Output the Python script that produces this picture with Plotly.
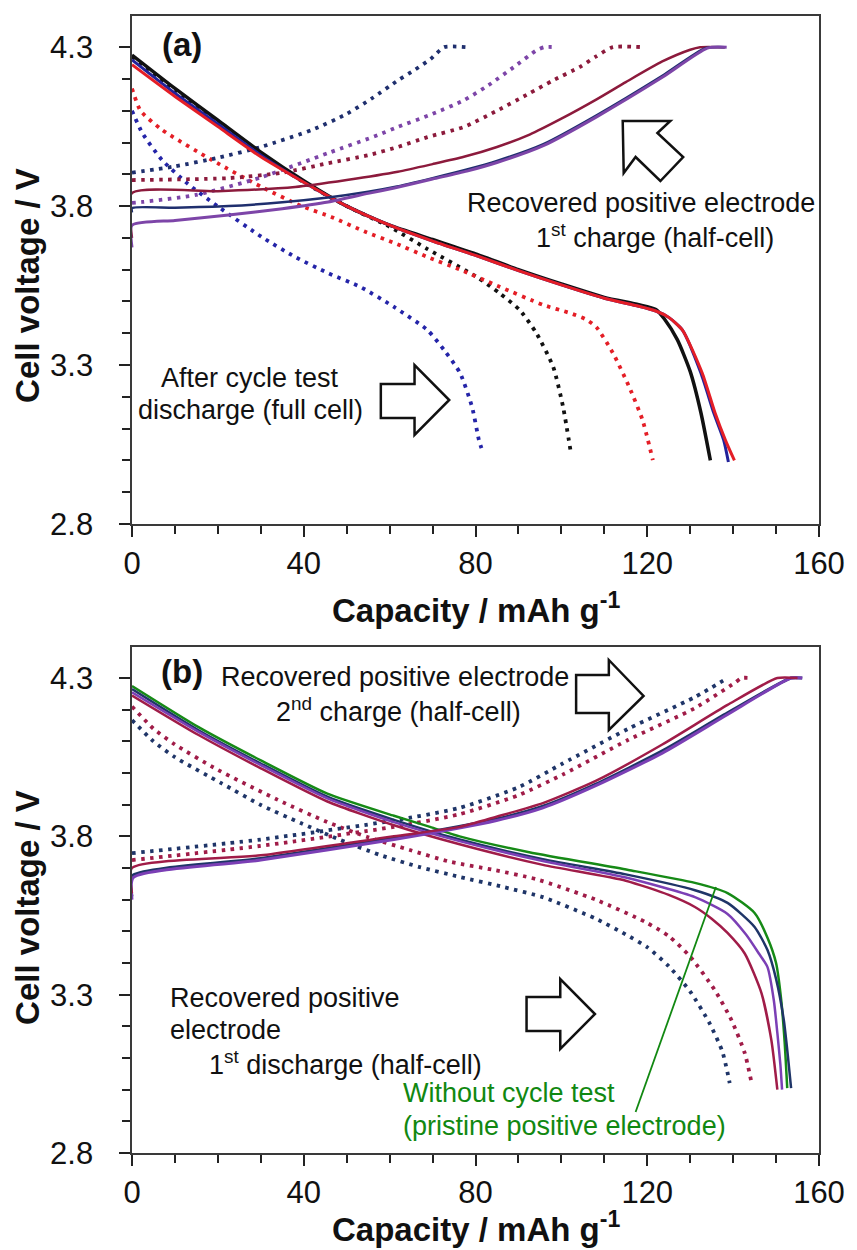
import plotly.graph_objects as go

# ---------------- Panel (a) data ----------------
# discharge, after cycle test (full cell) - dotted
a_blue_dot_x = [0, 2.4, 7.0, 13, 20.2, 30.2, 38.0, 45.7, 53.3, 61.1, 68.8, 72.7, 76.4, 79.2, 80.8, 81.7]
a_blue_dot_y = [4.10, 4.03, 3.945, 3.87, 3.797, 3.703, 3.640, 3.589, 3.545, 3.482, 3.41, 3.347, 3.275, 3.168, 3.064, 3.026]
a_black_dot_x = [0, 10, 20, 30, 40, 50, 60, 68.8, 80.3, 85.6, 90.3, 94.2, 98.1, 100.4, 102.3]
a_black_dot_y = [4.27, 4.165, 4.065, 3.965, 3.875, 3.80, 3.735, 3.665, 3.577, 3.526, 3.473, 3.40, 3.294, 3.168, 3.017]
a_red_dot_x = [0, 2, 7, 18.6, 30.2, 39.5, 46.4, 54.2, 61.1, 68.8, 76.4, 85, 95.8, 101.9, 105.5, 108.1, 112, 115.8, 118.9, 121.3]
a_red_dot_y = [4.17, 4.10, 4.04, 3.945, 3.86, 3.80, 3.766, 3.72, 3.684, 3.64, 3.60, 3.55, 3.489, 3.464, 3.445, 3.42, 3.338, 3.231, 3.127, 3.001]
# discharge, solid
a_black_x = [0, 10, 20, 30, 40, 50, 60, 70, 80, 90, 100, 110, 118, 122, 124, 127, 130, 132.5, 134.7]
a_black_y = [4.275, 4.17, 4.07, 3.97, 3.88, 3.80, 3.74, 3.695, 3.65, 3.60, 3.555, 3.513, 3.49, 3.475, 3.445, 3.38, 3.28, 3.15, 3.0]
a_blue_x = [0, 10, 20, 30, 40, 50, 60, 70, 80, 90, 100, 110, 118, 122, 125, 128.2, 132.5, 135.5, 137.8, 138.9]
a_blue_y = [4.26, 4.155, 4.058, 3.96, 3.875, 3.80, 3.74, 3.69, 3.645, 3.597, 3.552, 3.51, 3.485, 3.47, 3.45, 3.41, 3.275, 3.149, 3.064, 2.995]
a_red_x = [0, 10, 20, 30, 40, 50, 60, 70, 80, 90, 100, 110, 118, 122, 125, 128.2, 132.8, 135.8, 138.2, 140.3]
a_red_y = [4.245, 4.145, 4.05, 3.955, 3.875, 3.80, 3.74, 3.69, 3.645, 3.597, 3.552, 3.51, 3.485, 3.47, 3.45, 3.41, 3.275, 3.149, 3.064, 3.0]
# 1st charge, solid
a_dred_x = [0, 0, 20, 38, 50, 61.9, 70, 77.3, 85, 92.6, 100, 108.1, 115, 123.5, 130, 132.3, 138.1]
a_dred_y = [3.70, 3.841, 3.847, 3.86, 3.882, 3.908, 3.932, 3.955, 3.986, 4.025, 4.075, 4.135, 4.19, 4.255, 4.292, 4.30, 4.30]
a_navy_x = [0, 0, 10, 22.5, 35, 45.7, 55, 61.1, 70, 78, 85, 95.8, 108.1, 123.5, 133.5, 138]
a_navy_y = [3.78, 3.794, 3.795, 3.80, 3.812, 3.827, 3.845, 3.86, 3.888, 3.915, 3.942, 3.995, 4.085, 4.21, 4.297, 4.30]
a_purple_x = [0, 0, 10, 22.5, 35, 45.7, 55, 61.1, 70, 78, 85, 95.8, 108.1, 123.5, 134, 138.5]
a_purple_y = [3.67, 3.74, 3.755, 3.772, 3.792, 3.813, 3.84, 3.857, 3.885, 3.91, 3.937, 3.99, 4.08, 4.205, 4.297, 4.30]
# charge, dotted
a_navy_dot_x = [0, 10, 20, 30, 42, 50, 56, 62, 66, 69.5, 72.7, 78]
a_navy_dot_y = [3.905, 3.925, 3.952, 3.986, 4.04, 4.09, 4.14, 4.196, 4.23, 4.262, 4.30, 4.30]
a_purple_dot_x = [0, 2.4, 14.9, 30.2, 45.7, 57.2, 61.9, 70, 77.3, 83, 88.9, 94.2, 96, 98.8]
a_purple_dot_y = [3.81, 3.813, 3.835, 3.891, 3.967, 4.023, 4.049, 4.09, 4.133, 4.18, 4.237, 4.29, 4.30, 4.30]
a_dred_dot_x = [0, 22.5, 35, 45.7, 55, 61.9, 68.8, 77.3, 85, 92.6, 98, 104.2, 108, 112, 118.9]
a_dred_dot_y = [3.882, 3.888, 3.905, 3.935, 3.96, 3.986, 4.017, 4.049, 4.10, 4.155, 4.195, 4.237, 4.27, 4.30, 4.30]

# ---------------- Panel (b) data ----------------
b_green_x = [0, 15.5, 30, 45.5, 61, 69.4, 76.3, 92.5, 115.6, 131.1, 138.7, 145, 148, 150, 151.2, 152, 152.6]
b_green_y = [4.275, 4.145, 4.04, 3.935, 3.865, 3.83, 3.80, 3.75, 3.694, 3.653, 3.621, 3.558, 3.48, 3.40, 3.283, 3.15, 3.005]
b_navy_x = [0, 15.5, 30, 45.5, 61, 76.3, 95.7, 115, 131.1, 138.7, 145, 148, 150, 151.8, 152.8, 153.5]
b_navy_y = [4.265, 4.135, 4.03, 3.925, 3.852, 3.79, 3.728, 3.68, 3.63, 3.59, 3.514, 3.441, 3.35, 3.22, 3.10, 3.005]
b_purple_x = [0, 15.5, 30, 45.5, 61, 76.3, 95.7, 115, 131.1, 138.7, 143, 146, 148, 149.5, 150.3, 151, 151.4]
b_purple_y = [4.255, 4.13, 4.025, 3.92, 3.845, 3.785, 3.722, 3.67, 3.608, 3.555, 3.49, 3.43, 3.387, 3.28, 3.179, 3.08, 3.0]
b_dred_x = [0, 15.5, 30, 45.5, 61, 76.3, 95.7, 115, 125, 131.1, 135, 138.7, 142.7, 146.6, 148.9, 150.3]
b_dred_y = [4.245, 4.12, 4.015, 3.91, 3.835, 3.775, 3.71, 3.66, 3.615, 3.577, 3.54, 3.495, 3.43, 3.305, 3.157, 3.0]
b_dred_dot_x = [0, 5, 10, 20, 34, 45.5, 54.8, 64.7, 74, 84.2, 94.1, 108, 119.5, 125, 130, 135.7, 139.6, 142.7, 144.3]
b_dred_dot_y = [4.21, 4.14, 4.09, 4.01, 3.915, 3.845, 3.798, 3.757, 3.72, 3.694, 3.665, 3.60, 3.53, 3.485, 3.42, 3.315, 3.22, 3.116, 3.021]
b_navy_dot_x = [0, 5, 10, 20.8, 30, 39.3, 48.6, 57.8, 67, 76.3, 86.5, 95.7, 108, 115, 120, 125, 130, 134.5, 137.5, 139.2]
b_navy_dot_y = [4.167, 4.10, 4.05, 3.968, 3.899, 3.842, 3.788, 3.741, 3.703, 3.672, 3.64, 3.608, 3.54, 3.49, 3.45, 3.39, 3.31, 3.21, 3.12, 3.021]
# 2nd charge
b_dred_ch_x = [0, 0, 30, 61, 76.3, 84.9, 95.7, 108, 123.5, 138.7, 150.3, 155]
b_dred_ch_y = [3.62, 3.70, 3.74, 3.80, 3.83, 3.862, 3.905, 3.975, 4.09, 4.215, 4.30, 4.30]
b_navy_ch_x = [0, 0, 30, 61, 84.9, 95.7, 108, 123.5, 138.7, 153.5, 156.1]
b_navy_ch_y = [3.61, 3.675, 3.73, 3.795, 3.855, 3.895, 3.965, 4.07, 4.19, 4.30, 4.30]
b_purple_ch_x = [0, 0.3, 30, 61, 84.9, 95.7, 108, 123.5, 138.7, 153.5, 156.1]
b_purple_ch_y = [3.60, 3.67, 3.725, 3.79, 3.85, 3.89, 3.96, 4.063, 4.185, 4.30, 4.30]
b_navy_chdot_x = [0, 30, 61, 76.3, 90, 100.3, 115.6, 131.1, 138.7]
b_navy_chdot_y = [3.747, 3.79, 3.85, 3.89, 3.955, 4.03, 4.14, 4.24, 4.30]
b_dred_chdot_x = [0, 30, 61, 76.3, 90, 100.3, 115.6, 131.1, 140.3, 142, 144.3]
b_dred_chdot_y = [3.725, 3.77, 3.83, 3.87, 3.93, 3.995, 4.105, 4.205, 4.284, 4.30, 4.30]

x_ticks = [0, 40, 80, 120, 160]
y_ticks = [2.8, 3.3, 3.8, 4.3]
y_tick_labels = ["2.8", "3.3", "3.8", "4.3"]

# ---------------- styles ----------------
C_BLACK = "#111111"
C_BLUE = "#2424a8"
C_RED = "#e41e26"
C_DRED = "#8c1a3c"
C_NAVY = "#1f2f6e"
C_PURPLE = "#7d45a8"
C_GREEN = "#168a16"
C_B_DRED = "#a01c48"
C_B_NAVY = "#1f3568"
C_B_PURPLE = "#7b3fb5"

DOT = "3.5px,5.5px"

fig = go.Figure()


def add(x, y, color, dotted, xa, ya, width=None):
    w = width if width is not None else (3.8 if dotted else 3)
    fig.add_trace(go.Scatter(
        x=x, y=y, mode="lines", xaxis=xa, yaxis=ya, showlegend=False,
        hoverinfo="skip",
        line=dict(color=color, width=w, dash=DOT if dotted else "solid",
                  shape="spline", smoothing=0.6)))


# panel (a)
add(a_blue_dot_x, a_blue_dot_y, C_BLUE, True, "x", "y")
add(a_black_dot_x, a_black_dot_y, C_BLACK, True, "x", "y")
add(a_red_dot_x, a_red_dot_y, C_RED, True, "x", "y")
add(a_navy_dot_x, a_navy_dot_y, C_NAVY, True, "x", "y")
add(a_purple_dot_x, a_purple_dot_y, C_PURPLE, True, "x", "y")
add(a_dred_dot_x, a_dred_dot_y, C_DRED, True, "x", "y")
add(a_black_x, a_black_y, C_BLACK, False, "x", "y", 3.5)
add(a_blue_x, a_blue_y, "#22229a", False, "x", "y")
add(a_red_x, a_red_y, C_RED, False, "x", "y")
add(a_dred_x, a_dred_y, C_DRED, False, "x", "y", 2.5)
add(a_navy_x, a_navy_y, C_NAVY, False, "x", "y", 2.5)
add(a_purple_x, a_purple_y, C_PURPLE, False, "x", "y", 3)

# panel (b)
add(b_navy_dot_x, b_navy_dot_y, C_B_NAVY, True, "x2", "y2")
add(b_dred_dot_x, b_dred_dot_y, C_B_DRED, True, "x2", "y2")
add(b_navy_chdot_x, b_navy_chdot_y, C_B_NAVY, True, "x2", "y2")
add(b_dred_chdot_x, b_dred_chdot_y, C_B_DRED, True, "x2", "y2")
add(b_green_x, b_green_y, C_GREEN, False, "x2", "y2", 2.5)
add(b_navy_x, b_navy_y, C_B_NAVY, False, "x2", "y2", 2.5)
add(b_purple_x, b_purple_y, C_B_PURPLE, False, "x2", "y2", 2.5)
add(b_dred_x, b_dred_y, C_B_DRED, False, "x2", "y2", 2.5)
add(b_navy_ch_x, b_navy_ch_y, C_B_NAVY, False, "x2", "y2", 3)
add(b_purple_ch_x, b_purple_ch_y, C_B_PURPLE, False, "x2", "y2", 3)
add(b_dred_ch_x, b_dred_ch_y, C_B_DRED, False, "x2", "y2", 2.5)

# ---------------- layout ----------------
W, H = 857, 1250
L, R, T, B = 132, 32, 16, 97
PW, PH = W - L - R, H - T - B
Y_TOP_A = 524   # pixel bottom of panel (a)
Y_TOP_B = 647   # pixel top of panel (b)


def px(p):
    return (p - L) / PW


def py(p):
    return (H - B - p) / PH


TICKFONT = dict(family="Liberation Sans, Arial", size=31, color="#111111")
LINEC = "#3a3a3a"
PAD = "\u2007\u200a"  # shift y tick labels away from the axis

xcommon = dict(range=[0, 160], tickvals=x_ticks, ticks="outside", ticklen=11,
               tickwidth=1.5, tickcolor="#222", showline=True, linecolor=LINEC,
               linewidth=1.5, mirror=True, showgrid=False, zeroline=False,
               tickfont=TICKFONT,
               minor=dict(ticks="outside", ticklen=8, tickwidth=1.5,
                          tickcolor="#222", dtick=10, tick0=0, showgrid=False))
ycommon = dict(range=[2.8, 4.398], tickvals=y_ticks,
               ticktext=[t + PAD for t in y_tick_labels],
               ticks="outside", ticklen=11, tickwidth=1.5, tickcolor="#222",
               showline=True, linecolor=LINEC, linewidth=1.5, mirror=True,
               showgrid=False, zeroline=False, tickfont=TICKFONT,
               minor=dict(ticks="outside", ticklen=8, tickwidth=1.5,
                          tickcolor="#222", dtick=0.1, tick0=2.8, showgrid=False))
xin = dict(range=[0, 160], tickvals=x_ticks, ticks="inside", ticklen=11,
           tickwidth=1.5, tickcolor="#222", showticklabels=False,
           showline=False, showgrid=False, zeroline=False)
yin = dict(range=[2.8, 4.398], tickvals=y_ticks, ticks="inside", ticklen=11,
           tickwidth=1.5, tickcolor="#222", showticklabels=False,
           showline=False, showgrid=False, zeroline=False)

fig.update_layout(
    width=W, height=H,
    margin=dict(l=L, r=R, t=T, b=B),
    paper_bgcolor="white", plot_bgcolor="white",
    showlegend=False,
    xaxis=dict(domain=[0, 1], anchor="y", **xcommon),
    yaxis=dict(domain=[py(Y_TOP_A), 1], anchor="x", **ycommon),
    xaxis2=dict(domain=[0, 1], anchor="y2", **xcommon),
    yaxis2=dict(domain=[0, py(Y_TOP_B)], anchor="x2", **ycommon),
    xaxis3=dict(overlaying="x", anchor="y", **xin),
    yaxis3=dict(overlaying="y", anchor="x", **yin),
    xaxis4=dict(overlaying="x2", anchor="y2", **xin),
    yaxis4=dict(overlaying="y2", anchor="x2", **yin),
)

TXT = dict(family="Liberation Sans, Arial", size=27, color="#111111")
GTXT = dict(family="Liberation Sans, Arial", size=27, color="#118811")
BOLD_T = dict(family="Liberation Sans, Arial", size=33, color="#111111")

ann = []


def text(t, xp, yp, font, xanchor="center"):
    ann.append(dict(text=t, x=px(xp), y=py(yp), xref="paper", yref="paper",
                    xanchor=xanchor, yanchor="middle", showarrow=False, font=font))


# axis titles
text("<b>Capacity / mAh g<sup>-1</sup></b>", 479, 608, BOLD_T)
text("<b>Capacity / mAh g<sup>-1</sup></b>", 479, 1227, BOLD_T)
for yc in (285, 907):
    ann.append(dict(text="<b>Cell voltage / V</b>", x=px(26), y=py(yc), xref="paper",
                    yref="paper", xanchor="center", yanchor="middle", showarrow=False,
                    textangle=-90, font=dict(family="Liberation Sans, Arial", size=33,
                                             color="#111111")))
# panel labels
text("<b>(a)</b>", 182, 44, dict(family="Liberation Sans, Arial", size=33, color="#111111"))
text("<b>(b)</b>", 182, 672, dict(family="Liberation Sans, Arial", size=33, color="#111111"))

# panel (a) notes
text("Recovered positive electrode", 645, 203, TXT)
text("1<sup>st</sup> charge (half-cell)", 660, 236, TXT)
text("After cycle test", 251, 378, TXT)
text("discharge (full cell)", 252, 410, TXT)
# panel (b) notes
text("Recovered positive electrode", 397, 677, TXT)
text("2<sup>nd</sup> charge (half-cell)", 401, 710, TXT)
text("Recovered positive", 168, 998, TXT, "left")
text("electrode", 168, 1030, TXT, "left")
text("1<sup>st</sup> discharge (half-cell)", 208, 1063, TXT, "left")
text("Without cycle test", 403, 1093, GTXT, "left")
text("(pristine positive electrode)", 403, 1126, GTXT, "left")

fig.update_layout(annotations=ann)

# hollow block arrows (pixel outlines -> paper coords)
arrows = [
    [(627, 121), (675, 121), (662, 133), (688, 157), (665, 181), (640, 157), (628, 173)],
    [(383, 384), (417, 384), (417, 365), (452, 400), (417, 435), (417, 418), (383, 418)],
    [(580, 675), (613, 675), (613, 660), (648, 696), (613, 730), (613, 713), (580, 713)],
    [(530, 997), (564, 997), (564, 979), (599, 1014), (564, 1049), (564, 1031), (530, 1031)],
]
shapes = []
for poly in arrows:
    path = "M " + " L ".join(f"{px(a):.5f},{py(b):.5f}" for a, b in poly) + " Z"
    shapes.append(dict(type="path", path=path, xref="paper", yref="paper",
                       line=dict(color="#111111", width=2.5), fillcolor="white"))
# green leader line
shapes.append(dict(type="line", x0=px(640), y0=py(1112), x1=px(721), y1=py(887),
                   xref="paper", yref="paper", line=dict(color="#118811", width=1.8)))
fig.update_layout(shapes=shapes)

fig.write_html("out.html")
